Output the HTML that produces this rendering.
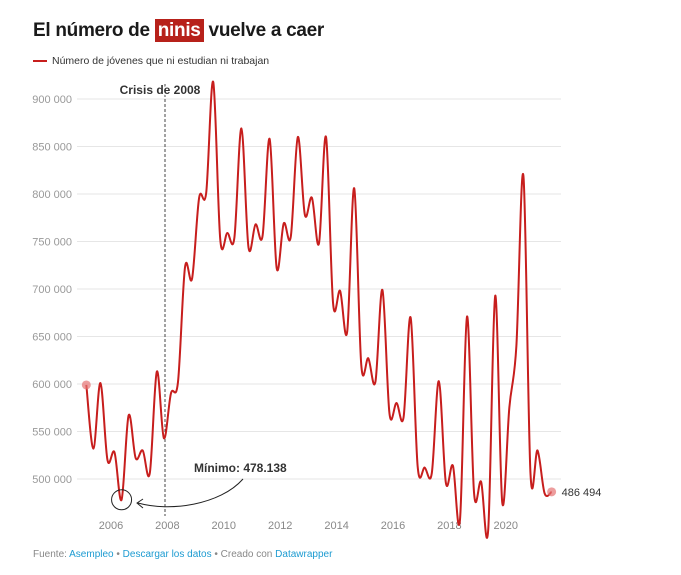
<!DOCTYPE html>
<html><head><meta charset="utf-8">
<style>
body{margin:0;width:681px;height:575px;background:#fff;font-family:"Liberation Sans",Arial,sans-serif;overflow:hidden;position:relative}
.title{position:absolute;left:33px;top:20px;font-size:19px;font-weight:bold;color:#1a1a1a;letter-spacing:-0.3px}
.title .hl{background:#b7211a;color:#fff;padding:1px 3px}
.legend{position:absolute;left:33px;top:55px;font-size:10.5px;color:#333}
.legend i{display:inline-block;width:14px;height:2px;background:#c71e1d;vertical-align:middle;margin-right:5px}
.footer{position:absolute;left:33px;top:549px;font-size:10px;color:#888}
.footer a{color:#1d9bd1;text-decoration:none}
svg{position:absolute;left:0;top:0}
</style></head><body>
<div class="title">El número de <span class="hl">ninis</span> vuelve a caer</div>
<div class="legend"><i></i>Número de jóvenes que ni estudian ni trabajan</div>
<svg id="chart" width="681" height="575"></svg>
<div class="footer">Fuente: <a>Asempleo</a> • <a>Descargar los datos</a> • Creado con <a>Datawrapper</a></div>
<script>
const startYear = 2005.125;
const values = [599,532,601,520,528,478.138,567,522,530,506,613,543,590,602,723,711,796,801,918,752,759,754,869,744,768,756,858,722,769,755,860,778,796,748,860,685,698,655,806,620,627,602,699,569,580,565,670,513,512,506,603,496,514,457,671,485,497,446,693,475,575,640,819,506,530,485,486.494];
const yTicks = [500000,550000,600000,650000,700000,750000,800000,850000,900000];
const xTicks = [2006,2008,2010,2012,2014,2016,2018,2020];

const NS="http://www.w3.org/2000/svg";
const svg=document.getElementById('chart');
const xS=t=>111+(t-2006)*28.2;
const yS=v=>99+(900000-v)/50000*47.5;
function mk(tag,attrs,text){const e=document.createElementNS(NS,tag);for(const k in attrs)e.setAttribute(k,attrs[k]);if(text!=null)e.textContent=text;svg.appendChild(e);return e;}
function fmt(v){return String(v).replace(/\B(?=(\d{3})+(?!\d))/g,' ');}

yTicks.forEach(v=>{
  const g=mk('line',{x1:77,x2:561,y1:yS(v),y2:yS(v),stroke:'#e6e6e6','stroke-width':1});
  
  
  const t=mk('text',{x:72,y:yS(v)+4,'text-anchor':'end','font-size':11,fill:'#999'},fmt(v));
  
  
});
xTicks.forEach(y=>{
  const t=mk('text',{x:xS(y),y:529,'text-anchor':'middle','font-size':11,fill:'#888'},String(y));
  
  
});

const cl=mk('line',{x1:165,x2:165,y1:84,y2:516,stroke:'#444','stroke-width':1,'stroke-dasharray':'3,2'});


const ct=mk('text',{x:160,y:94,'text-anchor':'middle','font-size':12,'font-weight':'bold',fill:'#333',stroke:'#fff','stroke-width':3,'paint-order':'stroke'},'Crisis de 2008');



const pts=values.map((v,i)=>[xS(startYear+i*0.25),yS(v*1000)]);
let d='M'+pts[0][0]+','+pts[0][1];
for(let i=0;i<pts.length-1;i++){
  const p0=pts[Math.max(0,i-1)],p1=pts[i],p2=pts[i+1],p3=pts[Math.min(pts.length-1,i+2)];
  const c1=[p1[0]+(p2[0]-p0[0])/6,p1[1]+(p2[1]-p0[1])/6];
  const c2=[p2[0]-(p3[0]-p1[0])/6,p2[1]-(p3[1]-p1[1])/6];
  d+=`C${c1[0]},${c1[1]} ${c2[0]},${c2[1]} ${p2[0]},${p2[1]}`;
}
const line=mk('path',{d:d,fill:'none',stroke:'#c71e1d','stroke-width':2});


[0,pts.length-1].forEach(i=>{
  const c=mk('circle',{cx:pts[i][0],cy:pts[i][1],r:4.5,fill:'#e57373','fill-opacity':0.7});
  
  
});
const last=pts[pts.length-1];
const lv=mk('text',{x:last[0]+10,y:last[1]+4,'font-size':11,fill:'#333'},fmt(Math.round(values[values.length-1]*1000)));



const mi=5;
const circ=mk('circle',{cx:pts[mi][0],cy:pts[mi][1],r:10,fill:'none',stroke:'#222','stroke-width':1});


const arr=mk('path',{d:'M243,479 C220,505 170,512 138,503 M143,499 L137,503 L143,508',fill:'none',stroke:'#222','stroke-width':1});


const mt=mk('text',{x:194,y:472,'font-size':12,'font-weight':'bold',fill:'#333',stroke:'#fff','stroke-width':3,'paint-order':'stroke'},'Mínimo: 478.138');


</script>
</body></html>
